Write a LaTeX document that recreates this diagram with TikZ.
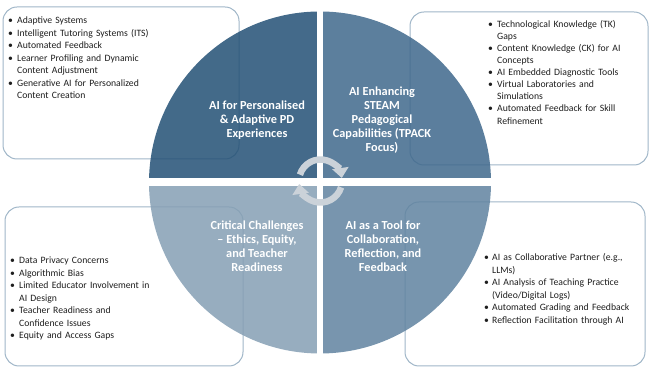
\documentclass[tikz,border=0pt]{standalone}
\usepackage{fontspec}
\setmainfont{Carlito}
\usetikzlibrary{arrows.meta,calc}
\definecolor{qtl}{RGB}{35,80,117}
\definecolor{qtr}{RGB}{63,104,140}
\definecolor{qbl}{RGB}{133,159,180}
\definecolor{qbr}{RGB}{96,131,160}
\definecolor{boxline}{RGB}{160,182,200}
\definecolor{arrowc}{RGB}{203,210,217}
\definecolor{listtext}{RGB}{30,30,30}
\newcommand\bitem[2][9pt]{\par\hangindent=#1\hangafter=1\noindent\makebox[#1][l]{\textbullet}#2\par}
\tikzset{
  roundbox/.style={draw=boxline, line width=1pt, fill=white, rounded corners=14pt, inner sep=0pt},
  listnode/.style={anchor=north west, inner sep=0pt, text width=220pt,
    font=\fontsize{9.7}{12.5}\selectfont\raggedright, text=listtext},
  quadtext/.style={align=center, text=white, font=\bfseries\fontsize{12.3}{14}\selectfont, inner sep=0pt},
  quadfill/.style={fill opacity=0.85},
  cyclearrow/.style={draw=arrowc, line width=6.5pt, -{Triangle[width=16pt,length=10pt]}}
}
\begin{document}
\begin{tikzpicture}[x=1pt,y=1pt]
\useasboundingbox (0,0) rectangle (651,374);
% background boxes
\node[roundbox, minimum width=236pt, minimum height=152pt] (tlbox) at (121,291) {};
\node[roundbox, minimum width=238pt, minimum height=153pt] (trbox) at (529,285.5) {};
\node[roundbox, minimum width=238pt, minimum height=159pt] (blbox) at (124,87.5) {};
\node[roundbox, minimum width=240pt, minimum height=164pt] (brbox) at (525,90) {};
% circle quadrants
\coordinate (c) at (320,191.5);
\begin{scope}
\clip (0,196) rectangle (316.8,374);
\fill[qtl, quadfill] (c) circle[radius=171pt];
\end{scope}
\begin{scope}
\clip (323.2,196) rectangle (651,374);
\fill[qtr, quadfill] (c) circle[radius=171pt];
\end{scope}
\begin{scope}
\clip (0,0) rectangle (316.8,187);
\fill[qbl, quadfill] (c) circle[radius=171pt];
\end{scope}
\begin{scope}
\clip (323.2,0) rectangle (651,187);
\fill[qbr, quadfill] (c) circle[radius=171pt];
\end{scope}
% quadrant titles
\node[quadtext] (tltitle) at (257,254) {AI for Personalised\\\& Adaptive PD\\Experiences};
\node[quadtext] (trtitle) at (382,254) {AI Enhancing\\STEAM\\Pedagogical\\Capabilities (TPACK\\Focus)};
\node[quadtext] (bltitle) at (257,128) {Critical Challenges\\– Ethics, Equity,\\and Teacher\\Readiness};
\node[quadtext] (brtitle) at (383,128) {AI as a Tool for\\Collaboration,\\Reflection, and\\Feedback};
% cycle arrows
\coordinate (ac) at (320.5,193);
\draw[cyclearrow] ($(ac)+(163:21.5pt)$) arc[start angle=163, end angle=8, radius=21.5pt];
\draw[cyclearrow] ($(ac)+(-17:21.5pt)$) arc[start angle=-17, end angle=-172, radius=21.5pt];
% lists
\node[listnode] (tllist) at (8,363) {%
\bitem{Adaptive Systems}
\bitem{Intelligent Tutoring Systems (ITS)}
\bitem{Automated Feedback}
\bitem{Learner Profiling and Dynamic\newline Content Adjustment}
\bitem{Generative AI for Personalized\newline Content Creation}};
\node[listnode, font=\fontsize{9.7}{12.1}\selectfont\raggedright] (trlist) at (488,359) {%
\bitem{Technological Knowledge (TK)\newline Gaps}
\bitem{Content Knowledge (CK) for AI\newline Concepts}
\bitem{AI Embedded Diagnostic Tools}
\bitem{Virtual Laboratories and\newline Simulations}
\bitem{Automated Feedback for Skill\newline Refinement}};
\node[listnode] (bllist) at (10,123) {%
\bitem{Data Privacy Concerns}
\bitem{Algorithmic Bias}
\bitem{Limited Educator Involvement in\newline AI Design}
\bitem{Teacher Readiness and\newline Confidence Issues}
\bitem{Equity and Access Gaps}};
\node[listnode] (brlist) at (484,126) {%
\bitem[8pt]{AI as Collaborative Partner (e.g.,\newline LLMs)}
\bitem[8pt]{AI Analysis of Teaching Practice\newline (Video/Digital Logs)}
\bitem[8pt]{Automated Grading and Feedback}
\bitem[8pt]{Reflection Facilitation through AI}};
\end{tikzpicture}
\end{document}
